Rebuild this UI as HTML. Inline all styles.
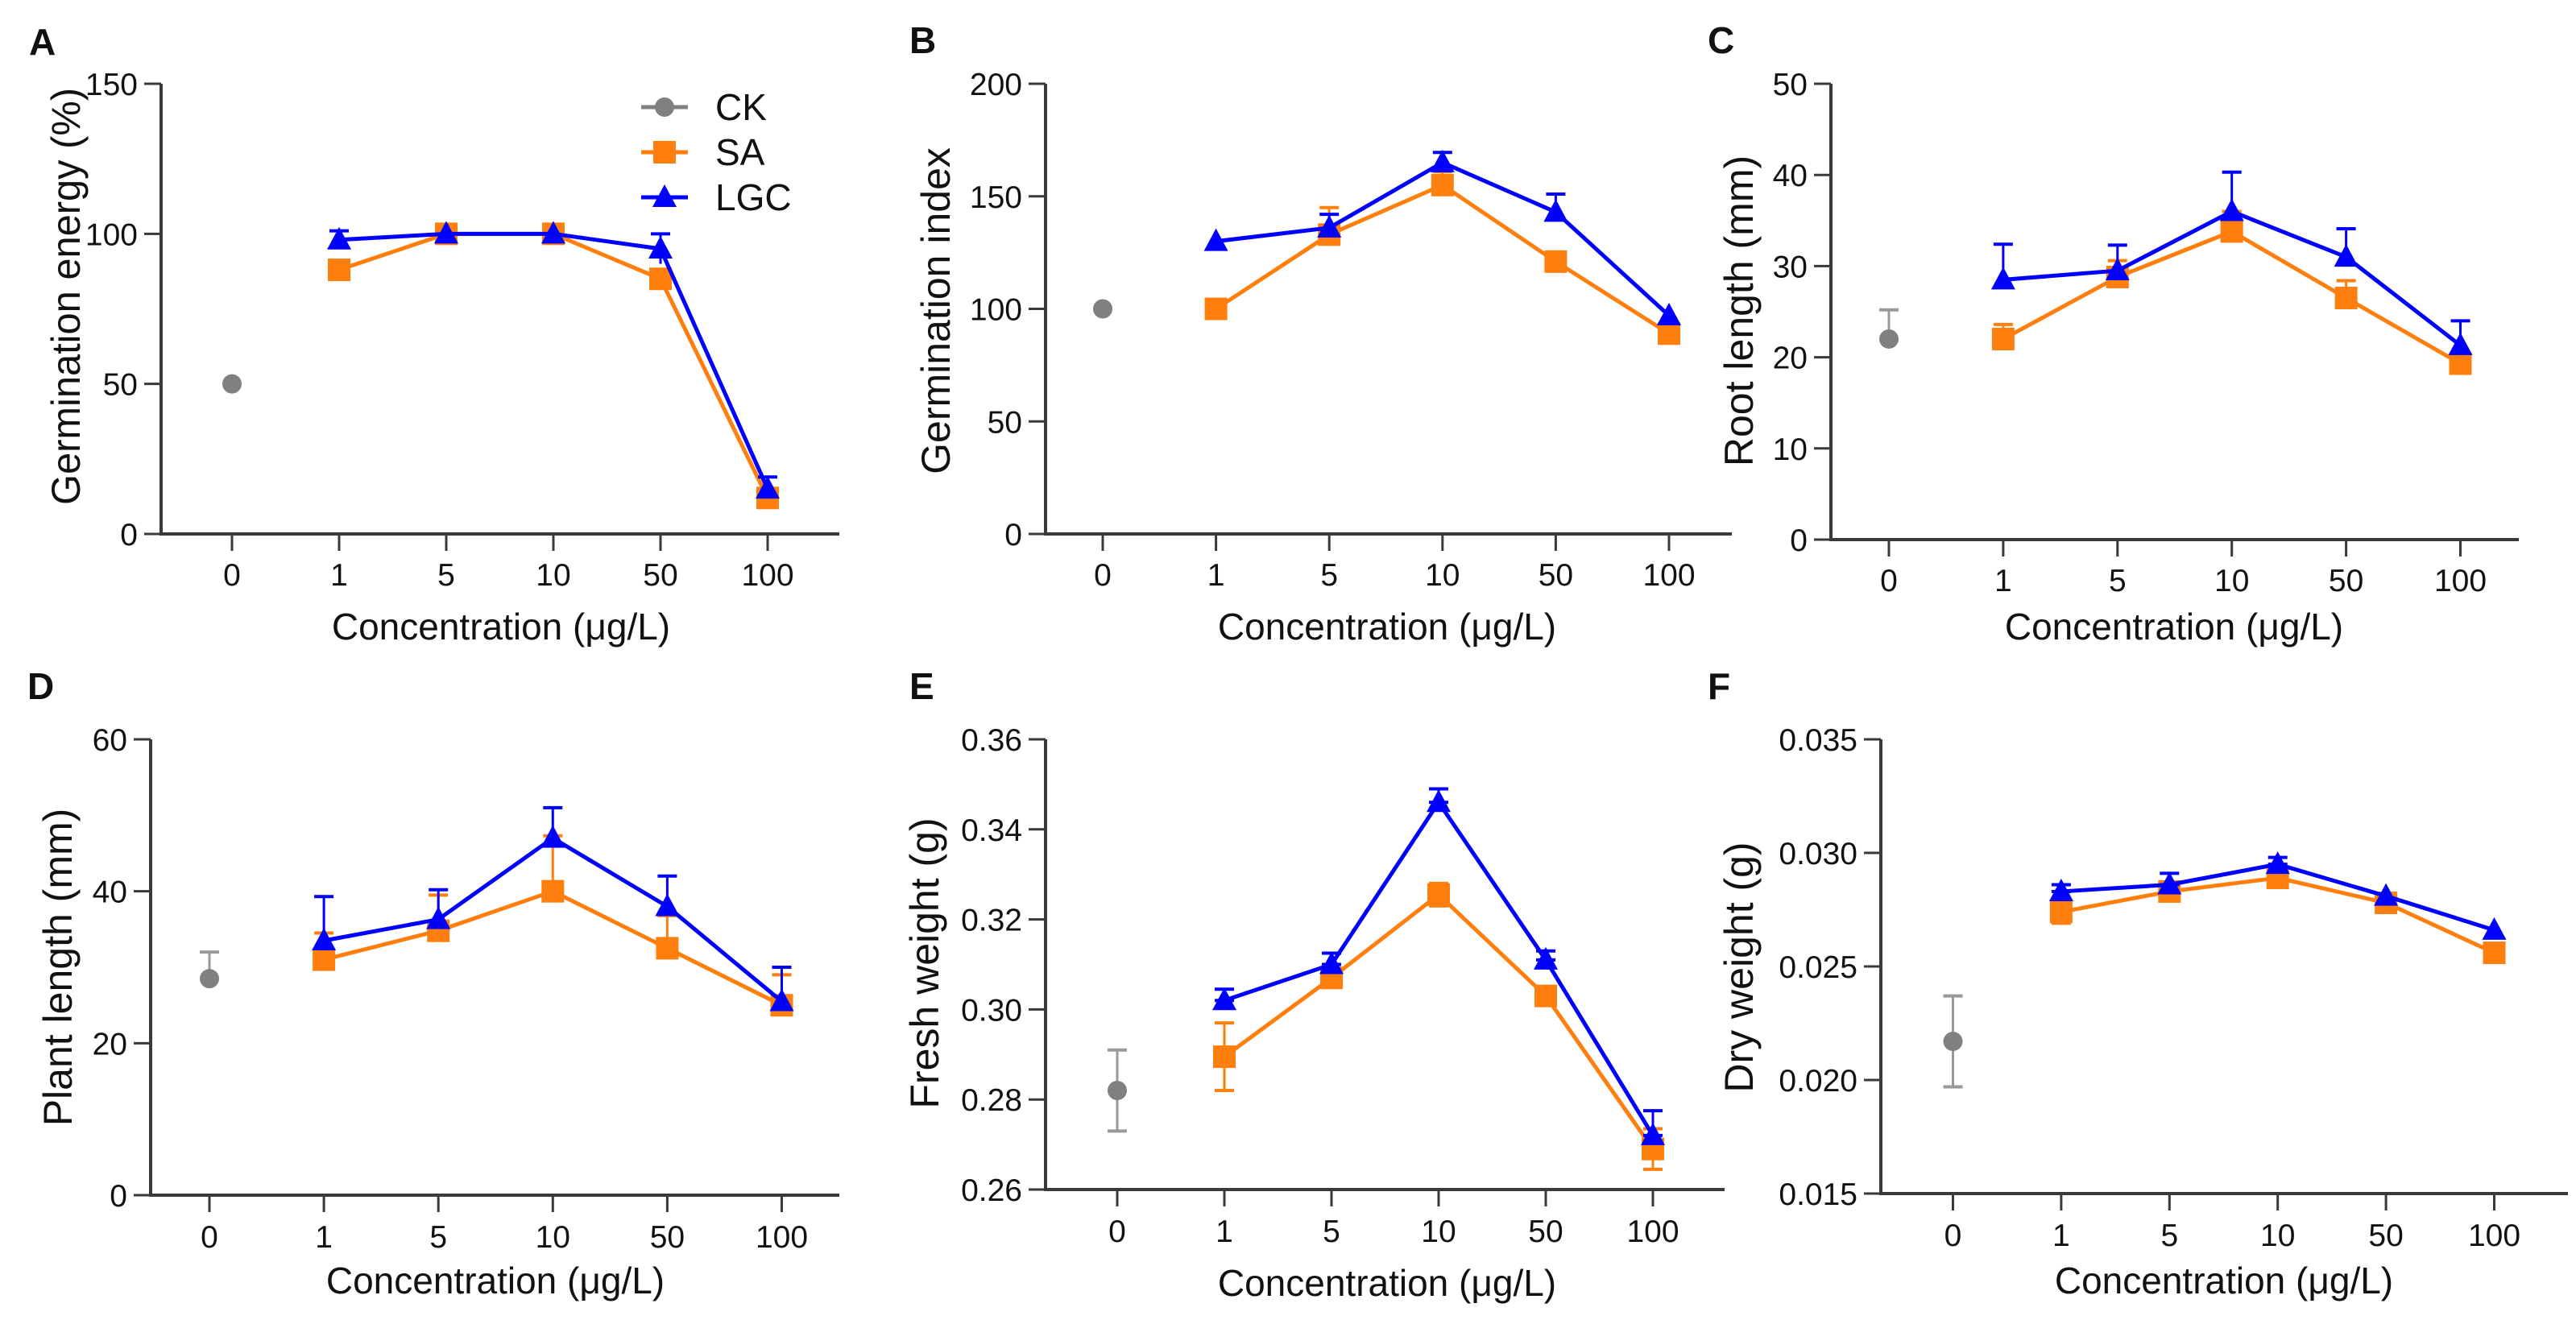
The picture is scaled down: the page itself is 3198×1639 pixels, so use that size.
<!DOCTYPE html>
<html><head><meta charset="utf-8"><style>
html,body{margin:0;padding:0;background:#fff}
svg{display:block}
text{font-family:"Liberation Sans",Arial,sans-serif;fill:#111}
</style></head><body>
<svg id="s" width="3198" height="1639" xmlns="http://www.w3.org/2000/svg"></svg>
<script>
const S=document.getElementById('s');let h='';
const OR='#FF7F0E',BL='#0000FF',GR='#808080',AX='#3a3a3a';
const cats=['0','1','5','10','50','100'];
function panel(p){
 const {ax,yt,yb,end,x0,dx,min,max,ticks,fmt,lab,lx,ly,ytitle,ytx,yty,xtx,xty,tly,ck,sa,lgc}=p;
 const Y=v=>yb-(v-min)/(max-min)*(yb-yt);
 const X=i=>x0+i*dx;
 h+=`<text x="${lx}" y="${ly}" font-size="46" font-weight="bold">${lab}</text>`;
 h+=`<line x1="${ax}" y1="${yt}" x2="${ax}" y2="${yb}" stroke="${AX}" stroke-width="4"/>`;
 h+=`<line x1="${ax-2}" y1="${yb}" x2="${end}" y2="${yb}" stroke="${AX}" stroke-width="4"/>`;
 ticks.forEach(t=>{const y=Y(t);h+=`<line x1="${ax-21}" y1="${y}" x2="${ax}" y2="${y}" stroke="${AX}" stroke-width="3"/><text x="${ax-29}" y="${y+14}" font-size="39" text-anchor="end">${fmt(t)}</text>`;});
 cats.forEach((c,i)=>{const x=X(i);h+=`<line x1="${x}" y1="${yb}" x2="${x}" y2="${yb+21}" stroke="${AX}" stroke-width="3"/><text x="${x}" y="${tly+14}" font-size="39" text-anchor="middle">${c}</text>`;});
 h+=`<text x="${xtx}" y="${xty+16}" font-size="46" text-anchor="middle">Concentration (μg/L)</text>`;
 const tl=p.tl?` textLength="${p.tl}" lengthAdjust="spacingAndGlyphs"`:'';
 h+=`<text transform="translate(${ytx+17},${yty}) rotate(-90)" font-size="50" text-anchor="middle"${tl}>${ytitle}</text>`;
 function err(x,lo,hi,col){h+=`<line x1="${x}" y1="${Y(lo)}" x2="${x}" y2="${Y(hi)}" stroke="${col}" stroke-width="3"/><line x1="${x-12}" y1="${Y(hi)}" x2="${x+12}" y2="${Y(hi)}" stroke="${col}" stroke-width="4"/>`;if(lo!==undefined&&p.both)h+=`<line x1="${x-12}" y1="${Y(lo)}" x2="${x+12}" y2="${Y(lo)}" stroke="${col}" stroke-width="4"/>`;}
 function series(d,col,mk){
  const pts=d.map((v,i)=>[X(i+1),Y(v[0])]);
  d.forEach((v,i)=>{if(v[1]!==undefined)err(X(i+1),v[2]!==undefined?v[2]:v[0],v[1],col);});
  h+=`<polyline points="${pts.map(q=>q.join(',')).join(' ')}" fill="none" stroke="${col}" stroke-width="5"/>`;
  pts.forEach(([x,y])=>{h+=mk=='s'?`<rect x="${x-14}" y="${y-14}" width="28" height="28" fill="${col}"/>`:`<polygon points="${x},${y-16} ${x-15},${y+12} ${x+15},${y+12}" fill="${col}"/>`;});
 }
 if(ck[1]!==undefined){const x=X(0);h+=`<line x1="${x}" y1="${Y(ck[2]!==undefined?ck[2]:ck[0])}" x2="${x}" y2="${Y(ck[1])}" stroke="#999" stroke-width="3"/><line x1="${x-12}" y1="${Y(ck[1])}" x2="${x+12}" y2="${Y(ck[1])}" stroke="#999" stroke-width="4"/>`;if(ck[2]!==undefined)h+=`<line x1="${x-12}" y1="${Y(ck[2])}" x2="${x+12}" y2="${Y(ck[2])}" stroke="#999" stroke-width="4"/>`;}
 h+=`<circle cx="${X(0)}" cy="${Y(ck[0])}" r="12" fill="${GR}"/>`;
 series(sa,OR,'s');series(lgc,BL,'t');
}
const id=v=>String(v);
panel({ax:200,yt:104,yb:663,end:1042,x0:288,dx:133,min:0,max:150,ticks:[0,50,100,150],fmt:id,lab:'A',lx:36,ly:68,ytitle:'Germination energy (%)',tl:518,ytx:82,yty:368,xtx:622,xty:778,tly:713,
 ck:[50],sa:[[88],[100],[100],[85],[12]],lgc:[[98,101],[100],[100],[95,100,90],[15,19]]});
panel({ax:1298,yt:104,yb:663,end:2150,x0:1369,dx:140.6,min:0,max:200,ticks:[0,50,100,150,200],fmt:id,lab:'B',lx:1129,ly:66,ytitle:'Germination index',ytx:1162,yty:386,xtx:1722,xty:778,tly:713,
 ck:[100],sa:[[100],[133,145],[155,161],[121],[89]],lgc:[[130],[136,142],[165,169.5],[143,151],[97]]});
panel({ax:2273,yt:104,yb:670,end:3127,x0:2345,dx:141.9,min:0,max:50,ticks:[0,10,20,30,40,50],fmt:id,lab:'C',lx:2120,ly:66,ytitle:'Root length (mm)',ytx:2159,yty:386,xtx:2699,xty:778,tly:720,
 ck:[22,25.2],sa:[[22,23.6],[28.8,30.6],[33.8,36],[26.5,28.4],[19.3,20.5]],lgc:[[28.5,32.4],[29.5,32.3],[36,40.3],[31,34.1],[21.3,24]]});
panel({ax:187,yt:918,yb:1484,end:1042,x0:260,dx:142.1,min:0,max:60,ticks:[0,20,40,60],fmt:id,lab:'D',lx:34,ly:868,ytitle:'Plant length (mm)',ytx:72,yty:1201,xtx:615,xty:1590,tly:1535,
 ck:[28.5,32],sa:[[31,34.5],[34.8,39.5],[40,47.3],[32.5,36.8],[25,29]],lgc:[[33.5,39.3],[36.3,40.2],[47,51],[38,42],[25.5,30]]});
panel({ax:1298,yt:918,yb:1477,end:2141,x0:1387,dx:133,min:0.26,max:0.36,ticks:[0.26,0.28,0.30,0.32,0.34,0.36],fmt:v=>v.toFixed(2),lab:'E',lx:1129,ly:868,ytitle:'Fresh weight (g)',ytx:1148,yty:1196,xtx:1722,xty:1593,tly:1528,both:true,
 ck:[0.282,0.291,0.273],sa:[[0.2895,0.297,0.282],[0.307],[0.3255,0.328,0.323],[0.303],[0.269,0.2735,0.2645]],lgc:[[0.302,0.3045],[0.31,0.3125],[0.346,0.349],[0.311,0.313],[0.272,0.2775]]});
panel({ax:2335,yt:918,yb:1482,end:3188,x0:2424.5,dx:134.4,min:0.015,max:0.035,ticks:[0.015,0.020,0.025,0.030,0.035],fmt:v=>v.toFixed(3),lab:'F',lx:2120,ly:868,ytitle:'Dry weight (g)',ytx:2159,yty:1201,xtx:2761,xty:1590,tly:1533,both:true,
 ck:[0.0217,0.0237,0.0197],sa:[[0.0274,0.0279,0.0269],[0.0283],[0.0289],[0.0278],[0.0256]],lgc:[[0.0283,0.0286],[0.0286,0.0291],[0.0295,0.0298],[0.0281],[0.0266]]});
[['CK',GR,'c',133],['SA',OR,'s',189],['LGC',BL,'t',245]].forEach(([t,c,m,y])=>{
 h+=`<line x1="796" y1="${y}" x2="854" y2="${y}" stroke="${c}" stroke-width="5"/>`;
 h+=m=='c'?`<circle cx="825" cy="${y}" r="12" fill="${c}"/>`:m=='s'?`<rect x="811" y="${y-14}" width="28" height="28" fill="${c}"/>`:`<polygon points="825,${y-16} 810,${y+12} 840,${y+12}" fill="${c}"/>`;
 h+=`<text x="888" y="${y+16}" font-size="46">${t}</text>`;
});
S.innerHTML=h;
</script>
</body></html>
